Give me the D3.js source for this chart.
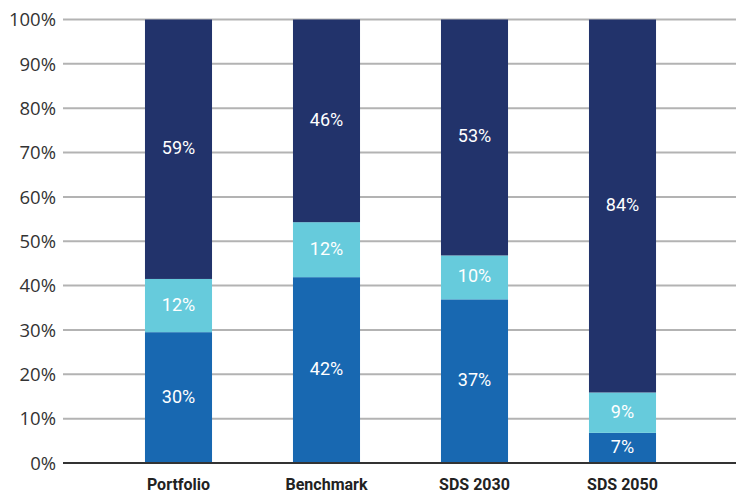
<!DOCTYPE html>
<html lang="en">
<head>
<meta charset="utf-8">
<title>Stacked bars</title>
<style>
  body { margin: 0; background: #fff; }
  text { font-family: Roboto, "Open Sans", sans-serif; }
</style>
</head>
<body>
<div id="chart"></div>
<script src="https://cdn.jsdelivr.net/npm/d3@7"></script>
<script>
var categories = ["Portfolio", "Benchmark", "SDS 2030", "SDS 2050"];
var keys = ["low", "mid", "high"];
var low  = [29.5, 41.9, 36.9, 6.8];
var mid  = [12.0, 12.4, 9.9, 9.1];
var high = [58.5, 45.7, 53.2, 84.1];
var yTicks = [0, 10, 20, 30, 40, 50, 60, 70, 80, 90, 100];
var colors = ["#1868b1", "#66cbdc", "#22336b"];

var width = 736, height = 492;

var rows = categories.map(function(c, i) {
  return { cat: c, low: low[i], mid: mid[i], high: high[i] };
});

var svg = d3.select("#chart").append("svg")
    .attr("width", width)
    .attr("height", height);

var x = d3.scaleBand()
    .domain(categories)
    .range([104.5, 696.5])
    .paddingInner(0.547)
    .paddingOuter(0.2735);

var y = d3.scaleLinear()
    .domain([0, 100])
    .range([463, 19.5]);

// gridlines
svg.append("g")
  .selectAll("line")
  .data(yTicks.filter(function(d) { return d > 0; }))
  .enter().append("line")
    .attr("x1", 63).attr("x2", width)
    .attr("y1", function(d) { return y(d); })
    .attr("y2", function(d) { return y(d); })
    .attr("stroke", "#b3b3b3")
    .attr("stroke-width", 2);

// y labels
svg.append("g")
  .selectAll("text")
  .data(yTicks)
  .enter().append("text")
    .attr("x", 56)
    .attr("y", function(d) { return y(d); })
    .attr("dy", "0.36em")
    .attr("text-anchor", "end")
    .attr("fill", "#333")
    .style("font-family", "'Open Sans', sans-serif")
    .style("font-size", "18.5px")
    .text(function(d) { return d + "%"; });

var series = d3.stack().keys(keys)(rows);

var layer = svg.append("g")
  .selectAll("g")
  .data(series)
  .enter().append("g")
    .attr("fill", function(d, i) { return colors[i]; });

layer.selectAll("rect")
  .data(function(d) { return d; })
  .enter().append("rect")
    .attr("x", function(d) { return x(d.data.cat); })
    .attr("width", x.bandwidth())
    .attr("y", function(d) { return y(d[1]); })
    .attr("height", function(d) { return y(d[0]) - y(d[1]); });

layer.selectAll("text")
  .data(function(d) { return d; })
  .enter().append("text")
    .attr("x", function(d) { return x(d.data.cat) + x.bandwidth() / 2; })
    .attr("y", function(d) { return (y(d[0]) + y(d[1])) / 2 - 1.5; })
    .attr("dy", "0.36em")
    .attr("text-anchor", "middle")
    .attr("fill", "#fff")
    .style("font-size", "18px")
    .text(function(d) { return Math.round(d[1] - d[0]) + "%"; });

// baseline
svg.append("line")
    .attr("x1", 63).attr("x2", width)
    .attr("y1", y(0)).attr("y2", y(0))
    .attr("stroke", "#333")
    .attr("stroke-width", 2);

// x labels
svg.append("g")
  .selectAll("text")
  .data(categories)
  .enter().append("text")
    .attr("x", function(d) { return x(d) + x.bandwidth() / 2; })
    .attr("y", 490)
    .attr("text-anchor", "middle")
    .attr("fill", "#222")
    .style("font-size", "16px")
    .style("font-weight", "bold")
    .text(function(d) { return d; });
</script>
</body>
</html>
